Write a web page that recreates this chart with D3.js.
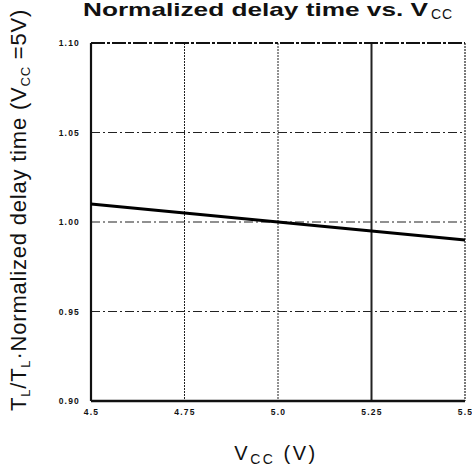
<!DOCTYPE html>
<html>
<head>
<meta charset="utf-8">
<script src="https://cdn.jsdelivr.net/npm/d3@7"></script>
<style>
  body { margin: 0; background: #fff; }
  svg { display: block; }
</style>
</head>
<body>
<script>
// data
var vcc = [4.5, 4.75, 5.0, 5.25, 5.5];
var delay = [1.01, 1.005, 1.0, 0.995, 0.99];
var xTicks = [4.5, 4.75, 5.0, 5.25, 5.5];
var xTickLabels = ['4.5', '4.75', '5.0', '5.25', '5.5'];
var yTicks = [0.90, 0.95, 1.00, 1.05, 1.10];
var yTickLabels = ['0.90', '0.95', '1.00', '1.05', '1.10'];

var W = 472, H = 473;
var plotL = 91, plotR = 465, plotT = 43, plotB = 401;
var font = '"Liberation Sans", Arial, sans-serif';

var svg = d3.select('body').append('svg')
    .attr('width', W)
    .attr('height', H);

var x = d3.scaleLinear().domain([4.5, 5.5]).range([plotL, plotR]);
var y = d3.scaleLinear().domain([0.90, 1.10]).range([plotB, plotT]);

// vertical grid lines (inner ones), each has its own look in the scan
var vStyles = {4.75: '2,1', 5: '2,1', 5.25: null};
xTicks.slice(1, 4).forEach(function(t) {
    svg.append('line')
        .attr('x1', x(t)).attr('x2', x(t))
        .attr('y1', plotT).attr('y2', plotB)
        .attr('stroke', '#222')
        .attr('stroke-width', t === 5.25 ? 2 : 1)
        .attr('stroke-dasharray', vStyles[t]);
});

// horizontal grid lines, dash-dot
yTicks.slice(1, 4).forEach(function(t) {
    svg.append('line')
        .attr('x1', plotL).attr('x2', plotR)
        .attr('y1', y(t)).attr('y2', y(t))
        .attr('stroke', '#222')
        .attr('stroke-width', 1.2)
        .attr('stroke-dasharray', '9,3,2,3');
});

// frame
svg.append('line').attr('x1', plotL).attr('x2', plotR).attr('y1', plotT).attr('y2', plotT)
    .attr('stroke', '#111').attr('stroke-width', 2).attr('stroke-dasharray', '14,2,3,2');
svg.append('line').attr('x1', plotR).attr('x2', plotR).attr('y1', plotT).attr('y2', plotB)
    .attr('stroke', '#222').attr('stroke-width', 1.2).attr('stroke-dasharray', '2,1');
svg.append('line').attr('x1', plotL).attr('x2', plotL).attr('y1', plotT).attr('y2', plotB)
    .attr('stroke', '#111').attr('stroke-width', 2.2);
svg.append('line').attr('x1', plotL).attr('x2', plotR).attr('y1', plotB).attr('y2', plotB)
    .attr('stroke', '#111').attr('stroke-width', 2.4);

// the curve
var line = d3.line()
    .x(function(d, i) { return x(vcc[i]); })
    .y(function(d) { return y(d); });

svg.append('path')
    .datum(delay)
    .attr('d', line)
    .attr('fill', 'none')
    .attr('stroke', '#000')
    .attr('stroke-width', 3);

// tick labels
var xAxis = d3.axisBottom(x)
    .tickValues(xTicks)
    .tickSize(0)
    .tickPadding(8)
    .tickFormat(function(d, i) { return xTickLabels[i]; });

svg.append('g')
    .attr('transform', 'translate(0,' + plotB + ')')
    .call(xAxis)
    .call(function(g) { g.select('.domain').remove(); })
    .selectAll('text')
    .attr('fill', '#111')
    .style('font', 'bold 8.5px ' + font)
    .style('letter-spacing', '1.2px');

var yAxis = d3.axisLeft(y)
    .tickValues(yTicks)
    .tickSize(0)
    .tickPadding(11)
    .tickFormat(function(d, i) { return yTickLabels[i]; });

svg.append('g')
    .attr('transform', 'translate(' + plotL + ',0)')
    .call(yAxis)
    .call(function(g) { g.select('.domain').remove(); })
    .selectAll('text')
    .attr('fill', '#111')
    .style('font', 'bold 8.5px ' + font)
    .style('letter-spacing', '1.2px');

// title, wide heavy face in the scan -> stretch glyphs
var title = svg.append('text')
    .attr('x', 83)
    .attr('y', 16)
    .attr('fill', '#111')
    .style('font', 'bold 19px ' + font);
title.append('tspan').attr('textLength', 345).attr('lengthAdjust', 'spacingAndGlyphs')
    .text('Normalized delay time vs. V');
title.append('tspan').attr('dx', 3).attr('dy', 3).style('font-size', '14px')
    .style('font-weight', 'normal').style('letter-spacing', '1px').text('CC');

// x label
var xl = svg.append('text')
    .attr('x', 276)
    .attr('y', 460)
    .attr('text-anchor', 'middle')
    .attr('fill', '#111')
    .style('font', '20px ' + font)
    .style('letter-spacing', '2.5px');
xl.append('tspan').text('V');
xl.append('tspan').attr('dy', 4).style('font-size', '14px').text('CC');
xl.append('tspan').attr('dy', -4).text(' (V)');

// y label
var yl = svg.append('text')
    .attr('transform', 'translate(26,210) rotate(-90)')
    .attr('text-anchor', 'middle')
    .attr('fill', '#111')
    .style('font', '22px ' + font)
    .style('letter-spacing', '0.8px');
yl.append('tspan').text('T');
yl.append('tspan').attr('dy', 4).style('font-size', '13px').text('L');
yl.append('tspan').attr('dy', -4).text('/T');
yl.append('tspan').attr('dy', 4).style('font-size', '13px').text('L');
yl.append('tspan').attr('dy', -4).text('·Normalized delay time (V');
yl.append('tspan').attr('dy', 4).style('font-size', '13px').text('CC');
yl.append('tspan').attr('dy', -4).text(' =5V)');
</script>
</body>
</html>
